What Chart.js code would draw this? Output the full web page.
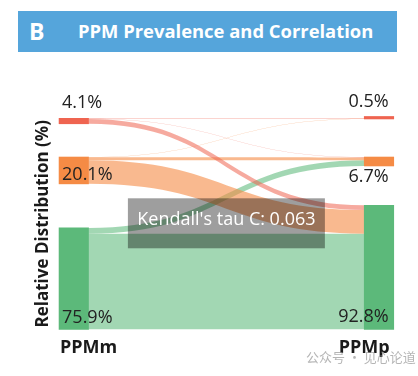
<!DOCTYPE html>
<html><head><meta charset="utf-8">
<script src="https://cdn.jsdelivr.net/npm/chart.js@4.4.0/dist/chart.umd.min.js"></script>
<style>
html,body{margin:0;padding:0;background:#fff;width:418px;height:376px;overflow:hidden;}
#wrap{position:relative;width:418px;height:376px;}
#chart{position:absolute;left:0;top:0;}
#bar{position:absolute;left:18px;top:11px;width:379px;height:41px;background:#55A5DB;color:#fff;font-family:'Open Sans',sans-serif;font-weight:700;}
#bar .tag{position:absolute;left:11px;top:4px;font-size:23px;line-height:32px;}
#bar .ttl{position:absolute;left:60px;top:5px;font-size:18.4px;line-height:30px;white-space:nowrap;}
</style></head>
<body><div id="wrap">
<canvas id="chart" width="418" height="376"></canvas>
<div id="bar"><span class="tag">B</span><span class="ttl">PPM Prevalence and Correlation</span></div>
</div>
<script>
// ---- data ----
const categories = ['PPMm', 'PPMp'];
const groups = ['Group 1', 'Group 2', 'Group 3'];
const ppmmShare = [4.1, 20.1, 75.9];
const ppmpShare = [0.5, 6.7, 92.8];
const flowFrom  = [0, 0, 0, 1, 1, 1, 2, 2, 2];
const flowTo    = [0, 1, 2, 0, 1, 2, 0, 1, 2];
const flowShare = [0.3, 0.3, 3.5, 0.2, 2.2, 17.7, 0.1, 4.2, 71.6];
const kendallTauC = 0.063;

// ---- layout / style ----
const FONT = "'Open Sans', sans-serif";
const nodeColors = ['#EF6450', '#F58B45', '#5CB97A'];
const flowColors = ['rgba(239,100,80,0.55)', 'rgba(245,139,69,0.6)', 'rgba(92,185,122,0.57)'];
const anchorTop = [158, 129, null]; // top anchors in axis units (null = bottom anchored)
const shares = [ppmmShare, ppmpShare];

function nodeRange(col, k) {
  const v = shares[col][k];
  if (anchorTop[k] === null) return [0, v];
  return [anchorTop[k] - v, anchorTop[k]];
}

const flowPlugin = {
  id: 'flows',
  beforeDatasetsDraw(chart) {
    const ctx = chart.ctx, ys = chart.scales.y;
    const lb = chart.getDatasetMeta(0).data[0], rb = chart.getDatasetMeta(0).data[1];
    const x0 = lb.x + lb.width / 2, x1 = rb.x - rb.width / 2, xm = (x0 + x1) / 2;
    const sOff = [0, 0, 0], tOff = [0, 0, 0];
    const bands = [];
    for (let f = 0; f < flowShare.length; f++) {
      const s = flowFrom[f], t = flowTo[f], v = flowShare[f];
      const sHi = nodeRange(0, s)[1] - sOff[s]; sOff[s] += v;
      const tHi = nodeRange(1, t)[1] - tOff[t]; tOff[t] += v;
      bands.push({s, a: ys.getPixelForValue(sHi), b: ys.getPixelForValue(sHi - v),
                  c: ys.getPixelForValue(tHi), d: ys.getPixelForValue(tHi - v)});
    }
    ctx.save();
    for (let k = 2; k >= 0; k--) {
      bands.filter(o => o.s === k).forEach(o => {
        ctx.beginPath();
        ctx.moveTo(x0, o.a);
        ctx.bezierCurveTo(xm, o.a, xm, o.c, x1, o.c);
        ctx.lineTo(x1, o.d);
        ctx.bezierCurveTo(xm, o.d, xm, o.b, x0, o.b);
        ctx.closePath();
        ctx.fillStyle = flowColors[k];
        ctx.fill();
      });
    }
    ctx.restore();
  },
  afterDatasetsDraw(chart) {
    const ctx = chart.ctx, ca = chart.chartArea;
    const lb = chart.getDatasetMeta(0).data[0], rb = chart.getDatasetMeta(0).data[1];
    ctx.save();
    // percentage labels
    ctx.font = '18px ' + FONT;
    ctx.fillStyle = '#222';
    ctx.textBaseline = 'middle';
    const place = [
      [['top', -15.5], ['bottom', -9], ['bottom', -11]],
      [['top', -15], ['bottom', 11], ['bottom', -12]]
    ];
    for (let col = 0; col < 2; col++) {
      const meta = chart.getDatasetMeta(0).data[col];
      ctx.textAlign = col === 0 ? 'left' : 'right';
      const tx = col === 0 ? meta.x - meta.width / 2 + 3 : meta.x + meta.width / 2 - 5;
      for (let k = 0; k < 3; k++) {
        const el = chart.getDatasetMeta(k).data[col];
        const top = Math.min(el.y, el.base), bot = Math.max(el.y, el.base);
        const [ref, d] = place[col][k];
        const ty = (ref === 'top' ? top : bot) + d;
        ctx.fillText(shares[col][k].toFixed(1) + '%', tx, ty);
      }
    }
    // x category labels
    ctx.font = 'bold 18px ' + FONT;
    ctx.fillStyle = '#1a1a1a';
    ctx.textAlign = 'center';
    ctx.fillText(categories[0], lb.x + lb.width / 2, 348);
    ctx.fillText(categories[1], rb.x - rb.width / 2, 348);
    // Kendall box
    const cx = (ca.left + ca.right) / 2, cy = (ca.top + ca.bottom) / 2;
    ctx.fillStyle = 'rgba(0,0,0,0.38)';
    ctx.fillRect(cx - 98.5, cy - 25.5, 197, 50);
    ctx.fillStyle = '#fff';
    ctx.font = '18px ' + FONT;
    ctx.fillText("Kendall's tau C: " + kendallTauC.toFixed(3), cx, cy - 4);
    // watermark
    ctx.font = "13px 'Noto Sans CJK SC'";
    ctx.fillStyle = 'rgba(150,150,150,0.7)';
    ctx.textAlign = 'left';
    ctx.fillText('公众号 · 见心论道', 306, 357);
    ctx.restore();
  }
};

new Chart(document.getElementById('chart'), {
  type: 'bar',
  data: {
    labels: categories,
    datasets: groups.map((g, k) => ({
      label: g,
      data: categories.map((c, col) => nodeRange(col, k)),
      backgroundColor: nodeColors[k],
      borderWidth: 0,
      barThickness: 29.5,
      minBarLength: 2.5,
      grouped: false,
      clip: false
    }))
  },
  options: {
    responsive: false,
    devicePixelRatio: 1,
    animation: false,
    layout: { padding: { left: 33.3, right: 39, top: 118.3, bottom: 46.7 } },
    plugins: { legend: { display: false }, tooltip: { enabled: false }, title: { display: false } },
    scales: {
      x: { type: 'category', offset: false, display: false },
      y: {
        min: 0, max: 158,
        ticks: { display: false },
        grid: { display: false, drawTicks: false },
        border: { display: false },
        title: { display: true, text: 'Relative Distribution (%)', color: '#1a1a1a',
                 font: { family: FONT, size: 17, weight: 'bold' }, padding: { top: 0, bottom: 20.1 } }
      }
    }
  },
  plugins: [flowPlugin]
});
</script>
</body></html>
